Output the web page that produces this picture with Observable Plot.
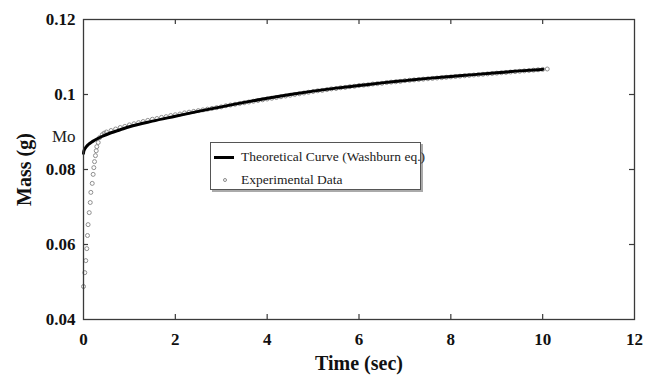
<!DOCTYPE html>
<html>
<head>
<meta charset="utf-8">
<script src="https://cdn.jsdelivr.net/npm/d3@7"></script>
<script src="https://cdn.jsdelivr.net/npm/@observablehq/plot@0.6"></script>
<style>
  html, body { margin: 0; padding: 0; background: #fff; }
  #wrap { position: relative; width: 645px; height: 375px; font-family: "Liberation Serif", "Times New Roman", serif; }
  #legend { position: absolute; left: 210px; top: 142px; width: 209px; height: 46px; border: 1px solid #555; box-shadow: 2px 2px 0 #aaa; background: #fff; font-size: 13.5px; color: #222; white-space: nowrap; }
  .row { position: absolute; left: 0; height: 20px; display: flex; align-items: center; }
  .sw { width: 30px; position: relative; height: 20px; flex: none; }
  .lineSw { position: absolute; left: 3px; top: 8.5px; width: 20px; height: 3px; background: #000; }
  .dotSw { position: absolute; left: 12px; top: 8px; width: 4px; height: 4px; border-radius: 50%; border: 1px solid #8a8a8a; box-sizing: border-box; }
</style>
</head>
<body>
<div id="wrap"></div>
<script>
// Theoretical curve (Washburn eq.)
const theoTime = [0, 0.005, 0.02, 0.05, 0.1, 0.2, 0.3, 0.4, 0.6, 0.8, 1, 1.5, 2, 2.5, 3, 3.5, 4, 4.5, 5, 5.5, 6, 6.5, 7, 7.5, 8, 8.5, 9, 9.5, 10];
const theoMass = [0.0843, 0.0848, 0.0853, 0.0859, 0.0866, 0.0875, 0.0882, 0.0888, 0.0898, 0.0906, 0.0914, 0.0929, 0.0942, 0.0955, 0.0967, 0.0979, 0.0990, 0.1000, 0.1009, 0.1017, 0.1024, 0.1031, 0.1037, 0.1043, 0.1048, 0.1053, 0.1058, 0.1063, 0.1067];

// Experimental data
const expTime = [0, 0.028, 0.05, 0.072, 0.087, 0.10, 0.125, 0.147, 0.16, 0.19, 0.21, 0.225, 0.24, 0.26, 0.277, 0.29, 0.32, 0.35, 0.41, 0.45,
  0.5, 0.6, 0.7, 0.8, 0.9, 1.0, 1.1, 1.2, 1.3, 1.4, 1.5, 1.6, 1.7, 1.8, 1.9, 2.0, 2.1, 2.2, 2.3, 2.4, 2.5, 2.6, 2.7, 2.8, 2.9, 3.0,
  3.1, 3.2, 3.3, 3.4, 3.5, 3.6, 3.7, 3.8, 3.9, 4.0, 4.1, 4.2, 4.3, 4.4, 4.5, 4.6, 4.7, 4.8, 4.9, 5.0,
  5.1, 5.2, 5.3, 5.4, 5.5, 5.6, 5.7, 5.8, 5.9, 6.0, 6.1, 6.2, 6.3, 6.4, 6.5, 6.6, 6.7, 6.8, 6.9, 7.0,
  7.1, 7.2, 7.3, 7.4, 7.5, 7.6, 7.7, 7.8, 7.9, 8.0, 8.1, 8.2, 8.3, 8.4, 8.5, 8.6, 8.7, 8.8, 8.9, 9.0,
  9.1, 9.2, 9.3, 9.4, 9.5, 9.6, 9.7, 9.8, 9.9, 10.0, 10.1];
const expMass = [0.0488, 0.0525, 0.0557, 0.0589, 0.0624, 0.0653, 0.0685, 0.0712, 0.0739, 0.0763, 0.0787, 0.0805, 0.0821, 0.0837, 0.0850, 0.0861, 0.0872, 0.0885, 0.0893, 0.0897,
  0.0900, 0.0904, 0.0908, 0.0912, 0.0915, 0.0919, 0.0922, 0.0925, 0.0928, 0.0931, 0.0934, 0.0936, 0.0939, 0.0941, 0.0944, 0.0946, 0.0948, 0.0951, 0.0953, 0.0955, 0.0957, 0.0959, 0.0961, 0.0963, 0.0965, 0.0967,
  0.0970, 0.0972, 0.0974, 0.0976, 0.0978, 0.0980, 0.0982, 0.0984, 0.0986, 0.0988, 0.0990, 0.0992, 0.0994, 0.0996, 0.0998, 0.1000, 0.1002, 0.1004, 0.1006, 0.1008,
  0.1010, 0.1011, 0.1013, 0.1015, 0.1016, 0.1018, 0.1019, 0.1021, 0.1022, 0.1024, 0.1025, 0.1026, 0.1028, 0.1029, 0.1030, 0.1032, 0.1033, 0.1034, 0.1035, 0.1037,
  0.1038, 0.1039, 0.1040, 0.1041, 0.1042, 0.1043, 0.1044, 0.1045, 0.1046, 0.1047, 0.1048, 0.1049, 0.1050, 0.1051, 0.1052, 0.1053, 0.1054, 0.1055, 0.1056, 0.1057,
  0.1058, 0.1059, 0.1060, 0.1061, 0.1062, 0.1063, 0.1064, 0.1065, 0.1066, 0.1067, 0.1068];

const xTickValues = [0, 2, 4, 6, 8, 10, 12];
const xTickLabels = ["0", "2", "4", "6", "8", "10", "12"];
const yTickValues = [0.04, 0.06, 0.08, 0.1, 0.12];
const yTickLabels = ["0.04", "0.06", "0.08", "0.1", "0.12"];
const xInnerTicks = [2, 4, 6, 8, 10];
const yInnerTicks = [0.06, 0.08, 0.1];
const moLabel = "Mo";
const moValue = 0.0888;
const xTitle = "Time (sec)";
const yTitle = "Mass (g)";
const seriesNames = ["Theoretical Curve (Washburn eq.)", "Experimental Data"];

const theo = theoTime.map((t, i) => ({t, m: theoMass[i]}));
const exp = expTime.map((t, i) => ({t, m: expMass[i]}));
const xTicks = xTickValues.map((v, i) => ({v, label: xTickLabels[i]}));
const yTicks = yTickValues.map((v, i) => ({v, label: yTickLabels[i]}));

const W = 645, H = 375, ML = 83, MR = 11, MT = 19, MB = 56;
const pw = W - ML - MR, ph = H - MT - MB, tl = 5;
const serif = "'Liberation Serif', 'Times New Roman', serif";

const chart = Plot.plot({
  width: W, height: H,
  marginLeft: ML, marginRight: MR, marginTop: MT, marginBottom: MB,
  style: {fontFamily: serif, background: "#fff", color: "#111"},
  x: {domain: [0, 12], axis: null},
  y: {domain: [0.04, 0.12], axis: null},
  marks: [
    Plot.dot(exp, {x: "t", y: "m", r: 2, stroke: "#8f8f8f", strokeWidth: 1, fill: "none"}),
    Plot.line(theo, {x: "t", y: "m", stroke: "#000", strokeWidth: 3, curve: "monotone-x"}),
    Plot.frame({stroke: "#3a3a3a", strokeWidth: 1.3}),
    Plot.tickX(xInnerTicks, {x: d => d, stroke: "#3a3a3a", strokeWidth: 1.2, insetTop: ph - tl}),
    Plot.tickX(xInnerTicks, {x: d => d, stroke: "#3a3a3a", strokeWidth: 1.2, insetBottom: ph - tl}),
    Plot.tickY(yInnerTicks, {y: d => d, stroke: "#3a3a3a", strokeWidth: 1.2, insetRight: pw - tl}),
    Plot.tickY(yInnerTicks, {y: d => d, stroke: "#3a3a3a", strokeWidth: 1.2, insetLeft: pw - tl}),
    Plot.text(xTicks, {x: "v", text: "label", frameAnchor: "bottom", dy: 20, lineAnchor: "middle", textAnchor: "middle", fontSize: 17, fontWeight: "bold", fontFamily: serif, fill: "#111"}),
    Plot.text(yTicks, {y: "v", text: "label", frameAnchor: "left", dx: -8, textAnchor: "end", lineAnchor: "middle", fontSize: 17, fontWeight: "bold", fontFamily: serif, fill: "#111"}),
    Plot.text([moLabel], {x: 0, y: moValue, dx: -8, textAnchor: "end", lineAnchor: "middle", fontSize: 17, fontFamily: serif, fill: "#222"}),
    Plot.text([xTitle], {frameAnchor: "bottom", dy: 44, lineAnchor: "middle", textAnchor: "middle", fontSize: 20, fontWeight: "bold", fontFamily: serif, fill: "#111"}),
    Plot.text([yTitle], {frameAnchor: "left", dx: -59, rotate: -90, lineAnchor: "middle", textAnchor: "middle", fontSize: 20, fontWeight: "bold", fontFamily: serif, fill: "#111"})
  ]
});

const wrap = document.getElementById("wrap");
wrap.appendChild(chart);
const legend = document.createElement("div");
legend.id = "legend";
legend.innerHTML = `
  <div class="row" style="top:4px"><div class="sw"><div class="lineSw"></div></div><span>${seriesNames[0]}</span></div>
  <div class="row" style="top:27px"><div class="sw"><div class="dotSw"></div></div><span>${seriesNames[1]}</span></div>`;
wrap.appendChild(legend);
</script>
</body>
</html>
